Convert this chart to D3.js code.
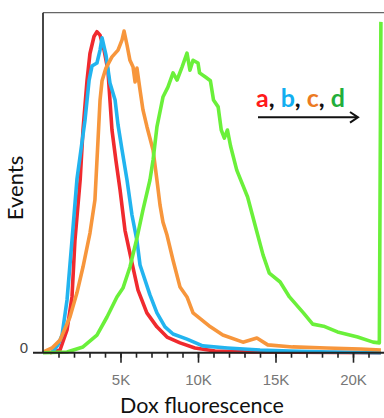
<!DOCTYPE html>
<html><head><meta charset="utf-8">
<script src="https://cdn.jsdelivr.net/npm/d3@7"></script>
<style>body{margin:0;background:#fff}svg{display:block}</style>
</head><body>
<svg id="c" width="384" height="418"></svg>
<script>
// x in thousands (K), y as % of max events
const redX = [0.45,1.1,1.55,1.87,2.06,2.4,2.58,2.84,3.03,3.29,3.48,3.68,3.94,4.19,4.45,4.7,4.97,5.29,5.74,6.13,6.7,7.35,8.0,8.84,9.8,11.1,13.4,21.8];
const redY = [0,0.8,6.7,16.4,33,51,65.5,80,88,93,94.4,93.4,89,83,65.5,56.7,47.9,36,26.4,18.4,11.7,7.6,4.6,2.9,1.4,0.5,0.2,0];
const blueX = [0.58,0.97,1.23,1.55,1.87,2.19,2.71,2.97,3.16,3.48,3.68,3.81,4.06,4.32,4.65,4.84,5.1,5.42,5.74,6.06,6.26,6.9,7.35,7.87,8.39,9.29,10.3,11.9,14.0,15.9,18.5,21.8];
const blueY = [0,2.3,5.2,15.5,33,51,68.4,80,84.3,85.2,89,92.6,87.6,79.3,74.3,67,59.6,50.8,40.5,33,25.8,17,11.7,7.6,5.5,4,2,1.4,0.8,0.5,0.2,0];
const orangeX = [0,0.58,1.1,1.74,2.19,2.58,3.03,3.35,3.55,3.68,3.81,4.06,4.45,4.84,5.1,5.23,5.42,5.61,5.81,5.94,6.06,6.26,6.45,6.71,7.1,7.35,7.55,7.74,8.0,8.39,8.84,9.29,9.68,10.8,11.6,12.9,13.8,14.5,16.1,18.3,20.5,21.8];
const orangeY = [0.2,1.4,3.7,10.5,17.6,25.2,35.2,44.9,62.6,74.3,80,83.7,87,89,92,94.6,90.5,86,84,79.6,83.7,77.3,71.4,66.4,59.6,50.8,43.4,38.4,34.6,27.2,19.3,16.4,11.7,7.6,5.2,3.1,4.3,2.3,1.7,1.4,1.1,0.8];
const greenX = [0,1.55,2.58,3.48,4.13,4.77,5.16,5.61,6.06,6.45,6.9,7.1,7.35,7.74,8.06,8.39,8.65,8.97,9.29,9.48,9.68,10.0,10.1,10.5,10.8,11.0,11.3,11.5,11.7,11.9,12.1,12.5,13.2,13.8,14.2,14.6,15.3,15.9,16.8,17.4,18.1,19.0,20.3,21.3,21.7,21.8];
const greenY = [0,0.2,1.7,5.2,10.5,16.4,19,25.2,33.7,42,50.8,56.7,66.4,75.2,78.1,82.3,80.2,84,88.1,83.1,86,85.2,82.3,81,80,74.3,72.3,65.5,63.1,65.5,60.8,53.7,45.8,35.5,28.7,23.4,20.8,16.4,11.7,8.4,7.8,6.1,4.6,3.1,2.9,97.3];
const minorTicks = d3.range(1,22);
const majorTicks = [5,10,15,20];
const tickLabels = ["5K","10K","15K","20K"];
const legendParts = ["a",", ","b",", ","c",", ","d"];
const legendColors = ["#ff1a1a","#111","#12aef0","#111","#ec7a22","#111","#22ae3a"];

const svg = d3.select("#c");
const L=43, R=384, T=12.7, B=352.7;
const x = d3.scaleLinear().domain([0,22]).range([L,R]);
const y = d3.scaleLinear().domain([0,100]).range([B,T]);

const series = [
  {xs:redX, ys:redY, c:"#f02a2e"},
  {xs:blueX, ys:blueY, c:"#22b4ef"},
  {xs:orangeX, ys:orangeY, c:"#f7963c"},
  {xs:greenX, ys:greenY, c:"#6af03a"}
];
const line = d3.line().x(d=>x(d[0])).y(d=>y(d[1]));
series.forEach(s=>{
  svg.append("path").attr("d", line(s.xs.map((v,i)=>[v,s.ys[i]])))
    .attr("fill","none").attr("stroke",s.c).attr("stroke-width",3.6)
    .attr("stroke-linejoin","round").attr("stroke-linecap","butt");
});

// frame
svg.append("line").attr("x1",L).attr("x2",R).attr("y1",T).attr("y2",T).attr("stroke","#666").attr("stroke-width",1.3);
svg.append("line").attr("x1",L).attr("x2",L).attr("y1",T).attr("y2",B).attr("stroke","#333").attr("stroke-width",1.8);
svg.append("line").attr("x1",33).attr("x2",R).attr("y1",B).attr("y2",B).attr("stroke","#222").attr("stroke-width",2);

// x axes
const minorAxis = d3.axisBottom(x).tickValues(minorTicks).tickSize(5).tickFormat("");
const gMin = svg.append("g").attr("transform",`translate(0,${B})`).call(minorAxis);
const majorAxis = d3.axisBottom(x).tickValues(majorTicks).tickSize(10).tickFormat((d,i)=>tickLabels[i]).tickPadding(12);
const gMaj = svg.append("g").attr("transform",`translate(0,${B})`).call(majorAxis);
[gMin,gMaj].forEach(g=>{
  g.select(".domain").remove();
  g.selectAll(".tick line").attr("stroke","#222").attr("stroke-width",1.6);
});
gMaj.selectAll("text").attr("font-family","Liberation Sans, Arial, sans-serif").attr("font-size",15).attr("fill","#777");

// y label 0
svg.append("text").attr("x",24).attr("y",y(0)).attr("dy","0.02em").attr("text-anchor","middle")
  .attr("font-family","Liberation Sans, Arial, sans-serif").attr("font-size",15).attr("fill","#444").text("0");

// axis titles
svg.append("text").attr("x",202).attr("y",413).attr("text-anchor","middle")
  .attr("font-family","Lato, 'Open Sans', sans-serif").attr("font-size",21.5).attr("fill","#111").text("Dox fluorescence");
svg.append("text").attr("transform","translate(23,188) rotate(-90)").attr("text-anchor","middle")
  .attr("font-family","Lato, 'Open Sans', sans-serif").attr("font-size",22).attr("fill","#111").text("Events");

// legend
const lt = svg.append("text").attr("x",256).attr("y",107)
  .attr("font-family","Lato, 'Open Sans', sans-serif").attr("font-weight","bold").attr("font-size",25);
legendParts.forEach((p,i)=>lt.append("tspan").attr("fill",legendColors[i]).text(p));

// arrow
svg.append("line").attr("x1",258).attr("x2",357).attr("y1",117.3).attr("y2",117.3).attr("stroke","#111").attr("stroke-width",2);
svg.append("path").attr("d","M350,112 L358,117.3 L350,122.6").attr("fill","none").attr("stroke","#111").attr("stroke-width",2);
</script>
</body></html>
